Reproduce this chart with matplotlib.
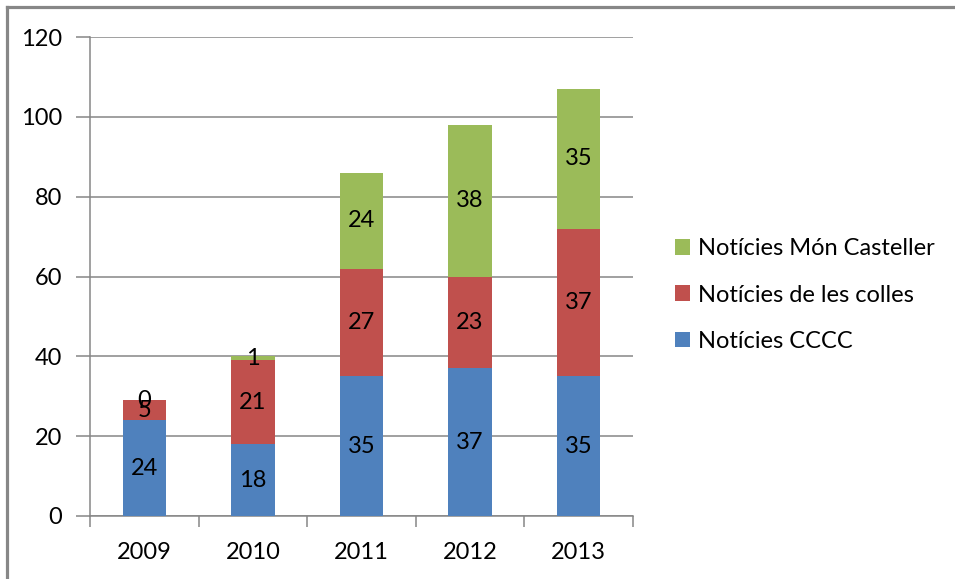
import matplotlib.pyplot as plt
from matplotlib.lines import Line2D
import numpy as np

plt.rcParams['font.family'] = ['Lato', 'DejaVu Sans']

years = ['2009', '2010', '2011', '2012', '2013']
cccc = [24, 18, 35, 37, 35]
colles = [5, 21, 27, 23, 37]
mon_casteller = [0, 1, 24, 38, 35]

series = [
    ('Notícies CCCC', cccc, '#4F81BD'),
    ('Notícies de les colles', colles, '#C0504D'),
    ('Notícies Món Casteller', mon_casteller, '#9BBB59'),
]

fs = 17

fig = plt.figure(figsize=(9.55, 5.79), dpi=100)
ax = fig.add_axes([90 / 955, 1 - 516 / 579, (633 - 90) / 955, (516 - 37) / 579])

x = np.arange(len(years))
bottom = np.zeros(len(years))
for name, vals, col in series:
    vals = np.array(vals, dtype=float)
    ax.bar(x, vals, width=0.4, bottom=bottom, color=col, label=name, zorder=3)
    for xi, b, v in zip(x, bottom, vals):
        ax.text(xi, b + v / 2, f'{int(v)}', ha='center', va='center',
                fontsize=fs, color='black', zorder=4)
    bottom += vals

grid_col = '#868686'
ax.set_ylim(0, 120)
ax.set_xlim(-0.5, len(years) - 0.5)
ax.set_yticks(range(0, 121, 20))
ax.yaxis.grid(True, color=grid_col, linewidth=1.1, zorder=0)
ax.set_xticks(x)
ax.set_xticklabels(years)
ax.set_xticks(np.arange(-0.5, len(years), 1.0), minor=True)
ax.tick_params(axis='x', which='major', length=0, pad=19, labelsize=fs)
ax.tick_params(axis='x', which='minor', length=8, width=1.1, color=grid_col, direction='out')
ax.tick_params(axis='y', length=10, width=1.1, color=grid_col, direction='out', pad=10, labelsize=fs)

for s in ['top', 'right']:
    ax.spines[s].set_visible(False)
for s in ['left', 'bottom']:
    ax.spines[s].set_color(grid_col)
    ax.spines[s].set_linewidth(1.1)

handles, labels = ax.get_legend_handles_labels()
ax.legend(handles[::-1], labels[::-1], loc='center left',
          bbox_to_anchor=(675 / 955, 1 - 295 / 579), bbox_transform=fig.transFigure,
          frameon=False, fontsize=fs, handlelength=0.64, handleheight=0.64,
          handletextpad=0.34, labelspacing=1.07, borderaxespad=0, borderpad=0)

# frame edges at the top and left of the picture
fig.add_artist(Line2D([7 / 955, 7 / 955], [0, 1 - 7 / 579], transform=fig.transFigure,
                      color='#878787', linewidth=2.3))
fig.add_artist(Line2D([7 / 955, 1], [1 - 7 / 579, 1 - 7 / 579], transform=fig.transFigure,
                      color='#878787', linewidth=2.3))

fig.savefig('out.png', dpi=100)
